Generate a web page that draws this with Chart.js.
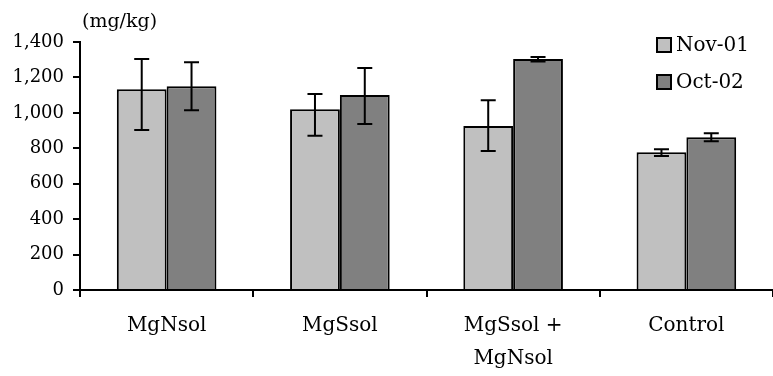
<!DOCTYPE html>
<html>
<head>
<meta charset="utf-8">
<script src="https://cdn.jsdelivr.net/npm/chart.js@4"></script>
<style>
  html, body { margin: 0; padding: 0; background: #fff; }
  #wrap { width: 773px; height: 376px; }
</style>
</head>
<body>
<div id="wrap"><canvas id="chart"></canvas></div>
<script>
// values (mg/kg)
const categories = ['MgNsol', 'MgSsol', ['MgSsol +', 'MgNsol'], 'Control'];
const seriesNames = ['Nov-01', 'Oct-02'];
const nov01 = [1133, 1020, 926, 777];
const nov01Low = [903, 871, 785, 757];
const nov01High = [1304, 1107, 1071, 794];
const oct02 = [1150, 1101, 1304, 862];
const oct02Low = [1015, 937, 1290, 840];
const oct02High = [1286, 1253, 1315, 885];
const yTicks = [0, 200, 400, 600, 800, 1000, 1200, 1400];

const FONT = "'DejaVu Serif', serif";
const colors = ['#c0c0c0', '#808080'];
const errors = [[nov01Low, nov01High], [oct02Low, oct02High]];

// error bars drawn from the low/high arrays
const errorBars = {
  id: 'errorBars',
  afterDatasetsDraw(chart) {
    const ctx = chart.ctx;
    const y = chart.scales.y;
    ctx.save();
    ctx.strokeStyle = '#000';
    ctx.lineWidth = 2;
    chart.data.datasets.forEach((ds, i) => {
      const meta = chart.getDatasetMeta(i);
      meta.data.forEach((bar, j) => {
        const lo = y.getPixelForValue(errors[i][0][j]);
        const hi = y.getPixelForValue(errors[i][1][j]);
        const x = bar.x;
        ctx.beginPath();
        ctx.moveTo(x, lo); ctx.lineTo(x, hi);
        ctx.moveTo(x - 7.5, lo); ctx.lineTo(x + 7.5, lo);
        ctx.moveTo(x - 7.5, hi); ctx.lineTo(x + 7.5, hi);
        ctx.stroke();
      });
    });
    ctx.restore();
  }
};

// unit label and legend in the top corners
const extras = {
  id: 'extras',
  afterDraw(chart) {
    const ctx = chart.ctx;
    const a = chart.chartArea;
    ctx.save();
    ctx.fillStyle = '#000';
    ctx.textBaseline = 'middle';
    ctx.font = '19px ' + FONT;
    ctx.fillText('(mg/kg)', a.left + 2, a.top - 20);

    ctx.font = '20px ' + FONT;
    chart.data.datasets.forEach((ds, i) => {
      const bx = a.right - 116, by = a.top - 4 + i * 37;
      ctx.fillStyle = ds.backgroundColor;
      ctx.fillRect(bx, by, 14, 14);
      ctx.strokeStyle = '#000';
      ctx.lineWidth = 2;
      ctx.strokeRect(bx, by, 14, 14);
      ctx.fillStyle = '#000';
      ctx.fillText(ds.label, bx + 19, by + 8);
    });
    ctx.restore();
  }
};

new Chart(document.getElementById('chart'), {
  type: 'bar',
  data: {
    labels: categories,
    datasets: [
      { label: seriesNames[0], data: nov01, backgroundColor: colors[0], borderColor: '#000', borderWidth: 2 },
      { label: seriesNames[1], data: oct02, backgroundColor: colors[1], borderColor: '#000', borderWidth: 2 }
    ]
  },
  options: {
    responsive: true,
    maintainAspectRatio: false,
    animation: false,
    layout: { padding: { top: 42, right: 0, left: 0, bottom: 0 } },
    datasets: { bar: { barPercentage: 1, categoryPercentage: 0.575 } },
    plugins: { legend: { display: false }, tooltip: { enabled: false } },
    scales: {
      x: {
        afterFit: s => { s.height = 86; },
        border: { color: '#000', width: 2 },
        grid: { offset: true, drawOnChartArea: false, color: '#000', lineWidth: 2, tickLength: 7 },
        ticks: { color: '#000', font: { family: FONT, size: 20, lineHeight: 1.65 }, padding: 12, maxRotation: 0 }
      },
      y: {
        min: 0,
        max: 1400,
        afterFit: s => { s.width = 80; },
        afterBuildTicks: s => { s.ticks = yTicks.map(v => ({ value: v })); },
        border: { color: '#000', width: 2 },
        grid: { drawOnChartArea: false, color: '#000', lineWidth: 2, tickLength: 7 },
        ticks: {
          color: '#000',
          font: { family: FONT, size: 18 },
          padding: 9,
          callback: v => v.toLocaleString('en-US')
        }
      }
    }
  },
  plugins: [errorBars, extras]
});
</script>
</body>
</html>
